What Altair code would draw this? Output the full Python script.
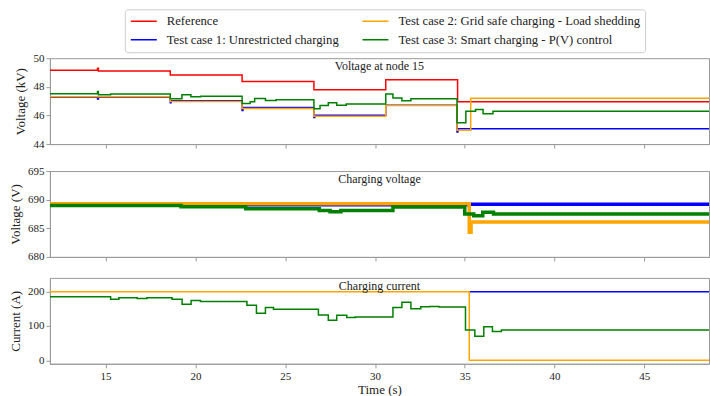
import altair as alt
import pandas as pd

T0, T_END = 11.9, 48.6

REF = "Reference"
TC1 = "Test case 1: Unrestricted charging"
TC2 = "Test case 2: Grid safe charging - Load shedding"
TC3 = "Test case 3: Smart charging - P(V) control"

LEGEND_ORDER = [REF, TC1, TC2, TC3]
LEGEND_COLORS = ["#ff0000", "#0000ff", "#ffa500", "#008000"]

X_TICKS = [15, 20, 25, 30, 35, 40, 45]

# ---- Panel 1: voltage at node 15 (kV) ----
node_ref_t = [11.9, 14.55, 14.6, 18.6, 22.6, 26.6, 30.6, 34.6]
node_ref_v = [49.15, 49.3, 49.1, 48.82, 48.37, 47.8, 48.5, 46.95]

node_tc1_t = [11.9, 14.55, 14.6, 18.6, 18.65, 22.6, 22.65, 26.6, 26.65, 30.6, 34.57, 34.62]
node_tc1_v = [47.27, 47.15, 47.27, 46.88, 47.02, 46.35, 46.55, 45.85, 46.02, 46.72, 44.85, 45.07]

node_tc2_t = [11.9, 18.6, 22.6, 26.6, 30.6, 34.57, 35.33]
node_tc2_v = [47.3, 46.98, 46.48, 45.95, 46.7, 44.97, 47.2]

node_tc3_t = [11.9, 14.55, 14.6, 15.28, 18.6, 19.25, 19.75, 20.3, 22.6, 23.05, 23.3, 23.9,
              24.5, 26.6, 26.94, 27.4, 27.87, 28.4, 30.6, 31.0, 31.5, 32.0, 34.57, 35.06,
              35.6, 36.02, 36.57]
node_tc3_v = [47.52, 47.68, 47.44, 47.5, 47.16, 47.44, 47.3, 47.34, 46.84, 46.95, 47.19, 47.05,
              47.1, 46.46, 46.7, 46.88, 46.72, 46.8, 47.5, 47.22, 47.03, 47.16, 45.49, 46.3,
              46.42, 46.12, 46.3]

# ---- Panel 2: charging voltage (V) ----
cv_tc1_t = [11.9, 35.25]
cv_tc1_v = [689.1, 689.2]

cv_tc2_t = [11.9, 35.25, 35.35]
cv_tc2_v = [689.3, 684.3, 686.1]

cv_tc3_t = [11.9, 19.2, 22.8, 26.9, 27.5, 28.1, 31.0, 35.0, 35.5, 36.0, 36.6]
cv_tc3_v = [689.0, 688.75, 688.4, 688.1, 687.9, 688.1, 688.7, 687.5, 687.2, 687.8, 687.5]

# ---- Panel 3: charging current (A) ----
cc_tc1_t = [35.25]
cc_tc1_v = [200]

cc_tc2_t = [11.9, 35.25]
cc_tc2_v = [200, 0]

cc_tc3_t = [11.9, 15.28, 15.74, 16.76, 17.3, 18.7, 19.26, 19.76, 20.28, 22.87, 23.4, 23.9,
            24.35, 26.85, 27.4, 27.87, 28.43, 28.9, 31.0, 31.5, 32.0, 32.55, 33.05, 33.57,
            35.04, 35.56, 36.06, 36.54, 37.04]
cc_tc3_v = [185, 178, 182, 180, 182, 178, 163, 174, 171, 160, 137, 154,
            149, 132, 117, 131, 125, 126, 154, 169, 150, 156, 157, 155,
            88, 70, 98, 84, 88]

FONT = "Liberation Serif"
TXT = "#222222"
GRAY = "#9a9a9a"

color_scale = alt.Scale(domain=LEGEND_ORDER, range=LEGEND_COLORS)
LEG = alt.Legend(
    orient="none", legendX=75, legendY=-49, columns=2, direction="vertical", title=None,
    symbolType="stroke", symbolSize=676, symbolStrokeWidth=1.5, clipHeight=13,
    labelFont=FONT, labelFontSize=12.7, labelColor=TXT, labelLimit=400,
    labelOffset=9, columnPadding=22, rowPadding=5, padding=5,
    fillColor="white", strokeColor="#cccccc", cornerRadius=3,
)


def series(name, ts, vs):
    return pd.DataFrame({"t": list(ts) + [T_END], "v": list(vs) + [vs[-1]], "series": name})


def panel(layers, ydomain, yticks, ytitle, title, last=False, width_px=1.5):
    xaxis = alt.Axis(values=X_TICKS, labels=last, title="Time (s)" if last else None,
                     grid=False, tickSize=4, labelPadding=3, titlePadding=2)
    yaxis = alt.Axis(values=yticks, title=ytitle, grid=False, tickSize=4, labelPadding=2,
                     titlePadding=5)
    charts = []
    for name, ts, vs in layers:
        charts.append(
            alt.Chart(series(name, ts, vs)).mark_line(
                interpolate="step-after", strokeWidth=width_px, clip=True
            ).encode(
                x=alt.X("t:Q", scale=alt.Scale(domain=[T0, T_END], nice=False, zero=False), axis=xaxis),
                y=alt.Y("v:Q", scale=alt.Scale(domain=ydomain, nice=False, zero=False), axis=yaxis),
                color=alt.Color("series:N", scale=color_scale, legend=LEG),
            )
        )
    label = alt.Chart(pd.DataFrame({"label": [title]})).mark_text(
        font=FONT, fontSize=12, color=TXT, baseline="middle", align="center"
    ).encode(text="label:N", x=alt.value(330), y=alt.value(8))
    return alt.layer(*charts, label).properties(width=660, height=86)


p1 = panel([(REF, node_ref_t, node_ref_v), (TC1, node_tc1_t, node_tc1_v),
            (TC2, node_tc2_t, node_tc2_v), (TC3, node_tc3_t, node_tc3_v)],
           [44, 50], [44, 46, 48, 50], "Voltage (kV)", "Voltage at node 15")
p2 = panel([(TC1, cv_tc1_t, cv_tc1_v), (TC2, cv_tc2_t, cv_tc2_v), (TC3, cv_tc3_t, cv_tc3_v)],
           [680, 695], [680, 685, 690, 695], "Voltage (V)", "Charging voltage", width_px=3.5)
p3 = panel([(TC1, cc_tc1_t, cc_tc1_v), (TC2, cc_tc2_t, cc_tc2_v), (TC3, cc_tc3_t, cc_tc3_v)],
           [-10, 240], [0, 100, 200], "Current (A)", "Charging current", last=True)

chart = alt.vconcat(p1, p2, p3, spacing=14).resolve_scale(color="shared").properties(
    padding={"left": 9, "top": 8, "right": 0, "bottom": 0}
).configure_view(stroke=GRAY, strokeWidth=1).configure_axis(
    labelFont=FONT, titleFont=FONT, labelFontSize=11, titleFontSize=13,
    titleFontWeight="normal", labelColor=TXT, titleColor=TXT,
    domainColor=GRAY, tickColor=GRAY,
).configure_legend(labelFont=FONT, labelFontSize=12.7)

chart.save("out.html", embed_options={"renderer": "svg", "actions": False})
